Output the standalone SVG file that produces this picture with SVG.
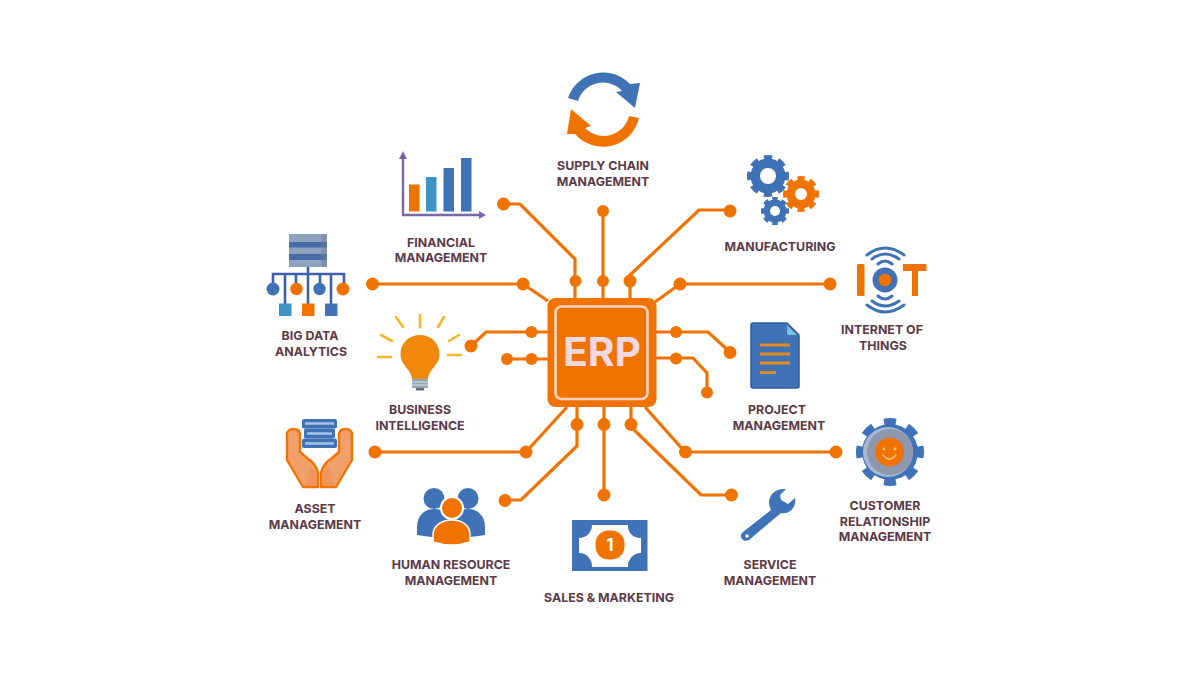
<svg xmlns="http://www.w3.org/2000/svg" width="1200" height="675" viewBox="0 0 1200 675">
<style>
text{font-family:"Inter","Liberation Sans",sans-serif;font-weight:700}
.l{font-size:12.4px;fill:#5b3a4a;text-anchor:middle}
.c{fill:none;stroke:#f07300;stroke-width:3.2;stroke-linejoin:miter}
.d{fill:#f07300}
.o{fill:#f07300}.b{fill:#3f72b6}.t{fill:#3f94c4}.w{fill:#fff}
.p{fill:none;stroke:#7a68a6;stroke-width:2.4}
.n{fill:none;stroke:#3f5fa8;stroke-width:2.6}
.y{stroke:#f5b82a;stroke-width:2.6;stroke-linecap:round}
.a{fill:none;stroke:#3f72b6;stroke-width:3;stroke-linecap:round}
.dl{stroke:#e58a1c;stroke-width:2.8}
.h{fill:#f2a06a;stroke:#f07300;stroke-width:2.4;stroke-linejoin:round}
.hi{fill:#f08f5a;opacity:.7}
</style>
<rect width="1200" height="675" fill="#fff"/>
<g id="connectors">
<path class="c" d="M503,204H520L575,259V298"/><circle class="d" cx="503.500" cy="204" r="6.500"/><circle class="d" cx="575.500" cy="281" r="6"/>
<path class="c" d="M603,211V298"/><circle class="d" cx="603" cy="211" r="6"/><circle class="d" cx="603" cy="281" r="6"/>
<path class="c" d="M730,210H699L630,275V298"/><circle class="d" cx="730" cy="211" r="6.500"/><circle class="d" cx="630" cy="281" r="6.500"/>
<path class="c" d="M372,284H523L548,301"/><circle class="d" cx="372.500" cy="284" r="6.500"/><circle class="d" cx="523" cy="284" r="6.500"/>
<path class="c" d="M830,284H680L655,302"/><circle class="d" cx="830" cy="284" r="6.500"/><circle class="d" cx="680" cy="284" r="6.500"/>
<path class="c" d="M471,346L486,332H548"/><circle class="d" cx="471" cy="346" r="6.500"/><circle class="d" cx="531.500" cy="332" r="6"/>
<path class="c" d="M507,359H548"/><circle class="d" cx="507" cy="359" r="6"/><circle class="d" cx="531.500" cy="359" r="6"/>
<path class="c" d="M655,332H708L730,352"/><circle class="d" cx="676" cy="332" r="6"/><circle class="d" cx="730" cy="352.500" r="6.500"/>
<path class="c" d="M655,358H693L707,373V392"/><circle class="d" cx="676" cy="358.500" r="6"/><circle class="d" cx="707" cy="392.500" r="6"/>
<path class="c" d="M375,452H526L567,407"/><circle class="d" cx="375" cy="452" r="6.500"/><circle class="d" cx="526" cy="452" r="6.500"/>
<path class="c" d="M505,500H521L577,446V407"/><circle class="d" cx="505" cy="500.500" r="6.500"/><circle class="d" cx="577" cy="424.500" r="6.500"/>
<path class="c" d="M604,495V407"/><circle class="d" cx="604" cy="495" r="6.500"/><circle class="d" cx="604" cy="424.500" r="6.500"/>
<path class="c" d="M731,495H701L631,427V407"/><circle class="d" cx="731.500" cy="495" r="6.500"/><circle class="d" cx="631" cy="424.500" r="6.500"/>
<path class="c" d="M836,452H685L645,407"/><circle class="d" cx="836" cy="452" r="6.500"/><circle class="d" cx="685.500" cy="452" r="6.500"/>
</g>
<g id="erp">
<rect x="547.500" y="298" width="109" height="109" rx="8" class="o"/>
<rect x="555.500" y="306.500" width="92" height="92.500" rx="6" fill="none" stroke="#f5d5c0" stroke-width="2.600"/>
<text x="602" y="366" font-size="39" text-anchor="middle" fill="#f3d9e3" textLength="78" lengthAdjust="spacingAndGlyphs">ERP</text>
</g>
<g id="supply-chain">
<path class="b" d="M568,98A37,37 0 0 1 630,84L640,83L635,108L616,92L622,91A26,26 0 0 0 578,101Z"/>
<path class="o" d="M639,118A37,37 0 0 1 575,134L567,134L571,109L591,126L585,128A26,26 0 0 0 629,116Z"/>
<text class="l" x="603" y="170">SUPPLY CHAIN</text><text class="l" x="603" y="185.500">MANAGEMENT</text>
</g>
<g id="financial">
<path class="p" d="M403,156V215H482"/>
<path d="M403,151L399,159H407Z M486,215L479,211V219Z" fill="#7a68a6"/>
<rect class="o" x="409" y="184.500" width="10.500" height="27"/>
<rect class="t" x="426" y="177" width="10.500" height="34.500"/>
<rect class="b" x="443.500" y="168" width="10.500" height="43.500"/>
<rect class="b" x="461" y="158" width="10.500" height="53.500"/>
<text class="l" x="441" y="246.500">FINANCIAL</text><text class="l" x="441" y="262">MANAGEMENT</text>
</g>
<g id="manufacturing">
<circle cx="768" cy="176" r="18.500" fill="none" stroke="#3f72b6" stroke-width="5" pathLength="16" stroke-dasharray="1.150 .85" stroke-dashoffset=".57"/>
<circle class="b" cx="768" cy="176" r="17.500"/><circle class="w" cx="768" cy="176" r="8"/>
<circle cx="801" cy="194" r="15.500" fill="none" stroke="#f07300" stroke-width="5" pathLength="16" stroke-dasharray="1.150 .85" stroke-dashoffset=".57"/>
<circle class="o" cx="801" cy="194" r="14.500"/><circle class="w" cx="801" cy="194" r="6"/>
<circle cx="775" cy="211" r="12" fill="none" stroke="#3f72b6" stroke-width="4" pathLength="16" stroke-dasharray="1.150 .85" stroke-dashoffset=".57"/>
<circle class="b" cx="775" cy="211" r="11.500"/><circle class="w" cx="775" cy="211" r="5"/>
<text class="l" x="780" y="251">MANUFACTURING</text>
</g>
<g id="big-data">
<rect x="289" y="234" width="38" height="33" fill="#8fa3bf"/>
<rect x="289" y="242" width="38" height="5.500" fill="#456ca6"/><rect x="289" y="254" width="38" height="6" fill="#456ca6"/>
<rect x="321" y="234" width="6" height="33" fill="#6f7f98" opacity=".45"/>
<path class="n" d="M308,267V304M273,289V274H344V289M285,274V304M296,274V289M320,274V289M331,274V304"/>
<circle class="b" cx="273" cy="289" r="6.500"/><circle class="o" cx="296.500" cy="289" r="6.200"/><circle class="b" cx="319.500" cy="289" r="6.200"/><circle class="o" cx="343" cy="289" r="6.500"/>
<rect class="t" x="279" y="303.500" width="12.500" height="12.500"/><rect class="o" x="302" y="303.500" width="12.500" height="12.500"/><rect class="b" x="325" y="303.500" width="12.500" height="12.500"/>
<text class="l" x="310" y="340">BIG DATA</text><text class="l" x="311" y="355.500">ANALYTICS</text>
</g>
<g id="iot">
<rect class="o" x="857" y="264" width="7.500" height="32" rx="1.500"/>
<path class="o" d="M903,264H926.500V271H918V296H912V271H903Z"/>
<circle class="b" cx="885" cy="280" r="12.500"/><circle class="o" cx="885" cy="280" r="6.300"/>
<path class="a" d="M867,255Q885,241 904,255M872,259Q885,249 899,259M878,264Q885,258 892,264M867,305Q885,319 904,305M872,301Q885,311 899,301M878,296Q885,302 892,296"/>
<text class="l" x="882" y="334">INTERNET OF</text><text class="l" x="883" y="350">THINGS</text>
</g>
<g id="business-intelligence">
<path class="y" d="M396,317L403,327M420,315V327M444,317L438,327M381,335L392,341M459,335L449,341M378,357H391M448,355H461"/>
<path d="M420,335C431,335 439.500,343 439.500,354C439.500,366 429,368 428,379H412C411,368 400.500,366 400.500,354C400.500,343 409,335 420,335Z" fill="#f0880c"/>
<rect x="412" y="379" width="16" height="9" rx="1" fill="#8fa7b5"/><path d="M412,382H428M412,385H428" stroke="#d9e2e6" stroke-width="1"/>
<rect x="416" y="388" width="8" height="2.500" fill="#5f7383"/>
<text class="l" x="420" y="414">BUSINESS</text><text class="l" x="420" y="429.500">INTELLIGENCE</text>
</g>
<g id="project">
<path d="M753,323H787L799,335V386A2,2 0 0 1 797,388H753A2,2 0 0 1 751,386V325A2,2 0 0 1 753,323Z" class="b" stroke="#2f5d9e" stroke-width="1.500"/>
<path d="M787,325L797,335H789A2,2 0 0 1 787,333Z" fill="#7cc3de"/>
<path class="dl" d="M760,345H790M760,354H790M760,363H790M760,372.500H776"/>
<text class="l" x="777" y="414">PROJECT</text><text class="l" x="779" y="429.500">MANAGEMENT</text>
</g>
<g id="asset">
<path class="h" d="M293,429C290,429 287,431 287,434V460L303,487H318V473C317,466 313,462 307,458L300,452V435C300,431 297,429 293,429Z"/>
<path class="h" d="M346,429C349,429 352,431 352,434V460L336,487H321V473C322,466 326,462 332,458L339,452V435C339,431 342,429 346,429Z"/>
<path class="hi" d="M305,485L310,466L316,473V485Z M334,485L329,466L323,473V485Z"/>
<rect x="302" y="419" width="35" height="9.500" rx="2" class="b"/><rect x="304" y="428.500" width="31" height="10" rx="2" class="b"/><rect x="302" y="438.500" width="35" height="9.500" rx="2" class="b"/>
<path d="M305,423.500H334M307,433.500H332M305,443.500H334" stroke="#a5c3e2" stroke-width="2.400"/>
<text class="l" x="315" y="513">ASSET</text><text class="l" x="315" y="528.500">MANAGEMENT</text>
</g>
<g id="human-resource">
<circle class="b" cx="434" cy="498.500" r="10.500"/><circle class="b" cx="468" cy="498.500" r="10.500"/>
<path class="b" d="M417,535V527C417,516 424,509 434,509C444,509 451,516 451,527V538C440,538 428,537 417,535Z"/>
<path class="b" d="M485,535V527C485,516 478,509 468,509C458,509 451,516 451,527V538C462,538 474,537 485,535Z"/>
<circle class="o" cx="452" cy="508" r="11" stroke="#fff" stroke-width="2"/>
<path class="o" d="M433,542V535C433,526 441,520 452,520C463,520 470,526 470,535V542C458,546 445,546 433,542Z" stroke="#fff" stroke-width="1.500"/>
<text class="l" x="451" y="569">HUMAN RESOURCE</text><text class="l" x="451" y="585">MANAGEMENT</text>
</g>
<g id="sales">
<rect class="b" x="572" y="520" width="75.500" height="51"/>
<path class="w" d="M592,525H628A12,12 0 0 0 641,538V553A13,13 0 0 0 628,567H592A13,13 0 0 0 579,553V538A13,13 0 0 0 592,525Z"/>
<rect class="o" x="595.500" y="530.500" width="29" height="29" rx="13"/>
<text x="610" y="551" font-size="17" text-anchor="middle" fill="#fff">1</text>
<text class="l" x="609" y="602">SALES &amp; MARKETING</text>
</g>
<g id="service">
<path class="b" d="M786,489C776,488 769,494 769,503C769,505 770,507 771,510L743,532C738,536 743,543 749,540L781,513C790,515 797,506 795,498L788,504L781,500L780,495Z"/>
<circle class="w" cx="747" cy="536" r="1.700"/>
<text class="l" x="770" y="569">SERVICE</text><text class="l" x="770" y="585">MANAGEMENT</text>
</g>
<g id="crm">
<circle cx="890" cy="452" r="29.500" fill="none" stroke="#3f72b6" stroke-width="9" pathLength="16" stroke-dasharray="1 1" stroke-dashoffset=".5"/>
<circle class="b" cx="890" cy="452" r="28"/>
<circle cx="888" cy="452" r="25" fill="#a9b7cf"/><circle cx="890" cy="452" r="23" fill="#8f97ae"/>
<circle class="o" cx="889.500" cy="452" r="14.500"/>
<circle cx="884" cy="449" r="1.400" fill="#f6c08a"/><circle cx="895" cy="449" r="1.400" fill="#f6c08a"/>
<path d="M883,455Q889.500,463 896,455" fill="none" stroke="#f6c08a" stroke-width="1.500" stroke-linecap="round"/>
<text class="l" x="885" y="510">CUSTOMER</text><text class="l" x="885" y="525.500">RELATIONSHIP</text><text class="l" x="885" y="541">MANAGEMENT</text>
</g>
</svg>
